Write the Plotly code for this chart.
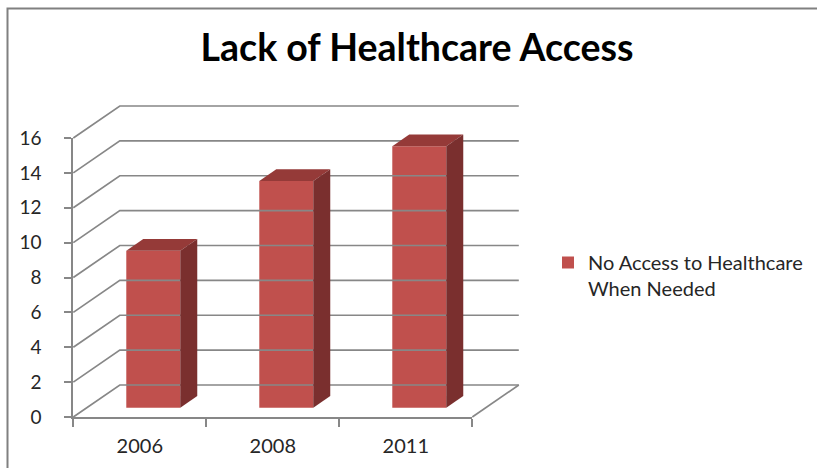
import plotly.graph_objects as go

# --- data -------------------------------------------------------------
years = ["2006", "2008", "2011"]
no_access = [9, 13, 15]
series_name = "No Access to Healthcare<br>When Needed"
y_ticks = [0, 2, 4, 6, 8, 10, 12, 14, 16]

# --- oblique 3-D geometry (in data units) -----------------------------
W, H = 817, 468
x_lo, x_hi = -0.5, len(years) - 0.5          # category span of the floor
y_lo, y_hi = 0, 16                           # value span of the walls
front_px = dict(left=73.3, right=472.3, bottom=417.0, top=138.0)
px_per_cat = (front_px["right"] - front_px["left"]) / (x_hi - x_lo)
px_per_val = (front_px["bottom"] - front_px["top"]) / (y_hi - y_lo)

DX = 46.5 / px_per_cat        # depth shift of the back wall, x
DY = 32.0 / px_per_val        # depth shift of the back wall, y
f_front, f_back = 0.29, 0.655 # depth of the bar's front and back faces
bar_w = 0.406

grid_col = "#878787"
face_col = "#C0504D"
top_col = "#953A38"
side_col = "#7A2F2E"
font_fam = "Lato, 'Open Sans', sans-serif"

fig = go.Figure()

# walls: left-wall diagonals and back-wall gridlines
for v in y_ticks:
    fig.add_trace(go.Scatter(
        x=[x_lo, x_lo + DX, x_hi + DX], y=[v, v + DY, v + DY],
        mode="lines", line=dict(color=grid_col, width=1.7),
        hoverinfo="skip", showlegend=False))
# right edge of the floor
fig.add_trace(go.Scatter(
    x=[x_hi, x_hi + DX], y=[0, DY], mode="lines",
    line=dict(color=grid_col, width=1.7), hoverinfo="skip", showlegend=False))

# columns: front faces as bars, top and side faces as filled polygons
xs = [i + f_front * DX for i in range(len(years))]
fig.add_trace(go.Bar(
    x=xs, y=no_access, base=f_front * DY, width=bar_w,
    marker=dict(color=face_col, line=dict(width=0)),
    name=series_name, hovertext=years, hoverinfo="text+y"))

dxb = (f_back - f_front) * DX
dyb = (f_back - f_front) * DY
for xc, v in zip(xs, no_access):
    L, R = xc - bar_w / 2, xc + bar_w / 2
    y0 = f_front * DY
    y1 = v + f_front * DY
    fig.add_trace(go.Scatter(
        x=[L, R, R + dxb, L + dxb, L], y=[y1, y1, y1 + dyb, y1 + dyb, y1],
        fill="toself", fillcolor=top_col, mode="lines", line=dict(width=0),
        hoverinfo="skip", showlegend=False))
    fig.add_trace(go.Scatter(
        x=[R, R + dxb, R + dxb, R, R], y=[y0, y0 + dyb, y1 + dyb, y1, y0],
        fill="toself", fillcolor=side_col, mode="lines", line=dict(width=0),
        hoverinfo="skip", showlegend=False))

# full-canvas drawing axes
x_range = [x_lo - front_px["left"] / px_per_cat,
           x_lo + (W - front_px["left"]) / px_per_cat]
y_range = [-(H - front_px["bottom"]) / px_per_val,
           front_px["bottom"] / px_per_val]

fig.update_layout(
    width=W, height=H, autosize=False,
    margin=dict(l=0, r=0, t=0, b=0, pad=0, autoexpand=False),
    paper_bgcolor="white", plot_bgcolor="rgba(0,0,0,0)",
    font=dict(family=font_fam, color="#262626"),
    xaxis=dict(domain=[0, 1], range=x_range, visible=False, fixedrange=True,
               automargin=False),
    yaxis=dict(domain=[0, 1], range=y_range, visible=False, fixedrange=True,
               automargin=False),
    # front axes carrying the tick labels
    xaxis2=dict(
        domain=[front_px["left"] / W, front_px["right"] / W],
        anchor="y2", range=[x_lo, x_hi], automargin=False,
        tickmode="array", tickvals=list(range(len(years))), ticktext=years,
        ticks="outside", ticklen=8, tickcolor="rgba(0,0,0,0)",
        minor=dict(tickmode="array",
                   tickvals=[x_lo + k for k in range(len(years) + 1)],
                   ticks="outside", ticklen=8, tickcolor=grid_col, tickwidth=1.7),
        showline=True, linecolor=grid_col, linewidth=1.7,
        showgrid=False, zeroline=False,
        tickfont=dict(size=20, family=font_fam, color="#262626"),
        ticklabelstandoff=2),
    yaxis2=dict(
        domain=[(H - front_px["bottom"]) / H, (H - front_px["top"]) / H],
        anchor="x2", range=[y_lo, y_hi], automargin=False,
        tickmode="array", tickvals=y_ticks,
        ticks="outside", ticklen=7, tickcolor=grid_col, tickwidth=1.7,
        showline=True, linecolor=grid_col, linewidth=1.7,
        showgrid=False, zeroline=False,
        tickfont=dict(size=19, family=font_fam, color="#262626"),
        ticklabelstandoff=19),
    title=dict(text="Lack of Healthcare Access",
               x=417 / W, xanchor="center", y=1 - 48 / H, yanchor="middle",
               font=dict(size=37.5, family=font_fam, color="black", weight="bold")),
    legend=dict(x=548 / W, xanchor="left", y=1 - 243 / H, yanchor="top",
                valign="top", bgcolor="rgba(0,0,0,0)",
                font=dict(size=20, family=font_fam, color="#262626")),
    barmode="overlay",
    shapes=[dict(type="rect", xref="paper", yref="paper",
                 x0=7.5 / W, x1=1.2, y0=-0.2, y1=1 - 8.5 / H,
                 line=dict(color="#808080", width=2), fillcolor="rgba(0,0,0,0)",
                 layer="below")],
)

# invisible placeholder so the front axes exist
fig.add_trace(go.Scatter(x=[x_lo], y=[y_lo], xaxis="x2", yaxis="y2",
                         mode="markers", marker=dict(opacity=0),
                         hoverinfo="skip", showlegend=False))

fig.write_html("out.html")
